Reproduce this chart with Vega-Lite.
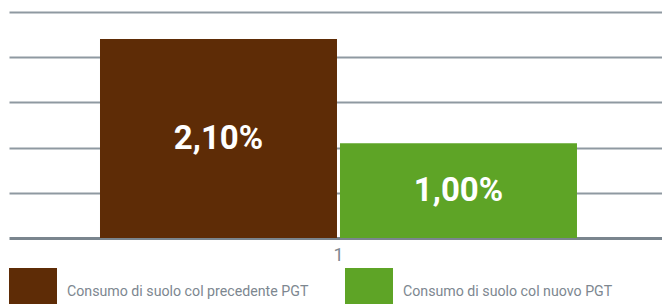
{
  "$schema": "https://vega.github.io/schema/vega-lite/v6.json",
  "width": 653,
  "height": 226,
  "padding": {"left": 9, "top": 12, "right": 0, "bottom": 0},
  "background": "white",
  "config": {
    "view": {"stroke": null},
    "font": "Roboto"
  },
  "data": {
    "values": [
      {"cat": "1", "serie": "Consumo di suolo col precedente PGT", "value": 2.1, "label": "2,10%"},
      {"cat": "1", "serie": "Consumo di suolo col nuovo PGT", "value": 1.0, "label": "1,00%"}
    ]
  },
  "encoding": {
    "x": {
      "field": "cat",
      "type": "nominal",
      "scale": {"paddingOuter": 0.1845, "paddingInner": 0, "align": 0.517},
      "axis": {
        "title": null,
        "labelAngle": 0,
        "labelFontSize": 18,
        "labelColor": "#7d8790",
        "labelPadding": 8,
        "ticks": false,
        "domainColor": "#7a858e",
        "domainWidth": 3
      }
    },
    "xOffset": {
      "field": "serie",
      "type": "nominal",
      "sort": ["Consumo di suolo col precedente PGT", "Consumo di suolo col nuovo PGT"],
      "scale": {"paddingInner": 0.0125, "paddingOuter": 0}
    }
  },
  "layer": [
    {
      "mark": {"type": "bar"},
      "encoding": {
        "y": {
          "field": "value",
          "type": "quantitative",
          "scale": {"domain": [0, 2.385], "nice": false},
          "axis": {
            "title": null,
            "labels": false,
            "ticks": false,
            "domain": false,
            "grid": true,
            "gridColor": "#8f99a1",
            "gridWidth": 2,
            "values": [0.477, 0.954, 1.431, 1.908, 2.385]
          }
        },
        "color": {
          "field": "serie",
          "type": "nominal",
          "sort": ["Consumo di suolo col precedente PGT", "Consumo di suolo col nuovo PGT"],
          "scale": {"range": ["#5e2c06", "#5ea426"]},
          "legend": {
            "title": null,
            "orient": "none",
            "direction": "horizontal",
            "legendX": 0,
            "legendY": 256,
            "symbolType": "square",
            "symbolSize": 2304,
            "symbolStrokeWidth": 0,
            "symbolOpacity": 1,
            "labelFontSize": 14.2,
            "labelColor": "#7d8790",
            "labelOffset": 10,
            "labelLimit": 400,
            "columnPadding": 36
          }
        }
      }
    },
    {
      "transform": [{"calculate": "datum.value / 2", "as": "mid"}],
      "mark": {
        "type": "text",
        "color": "white",
        "fontWeight": "bold",
        "fontSize": 33,
        "baseline": "middle",
        "align": "center"
      },
      "encoding": {
        "y": {"field": "mid", "type": "quantitative"},
        "text": {"field": "label"}
      }
    }
  ]
}
